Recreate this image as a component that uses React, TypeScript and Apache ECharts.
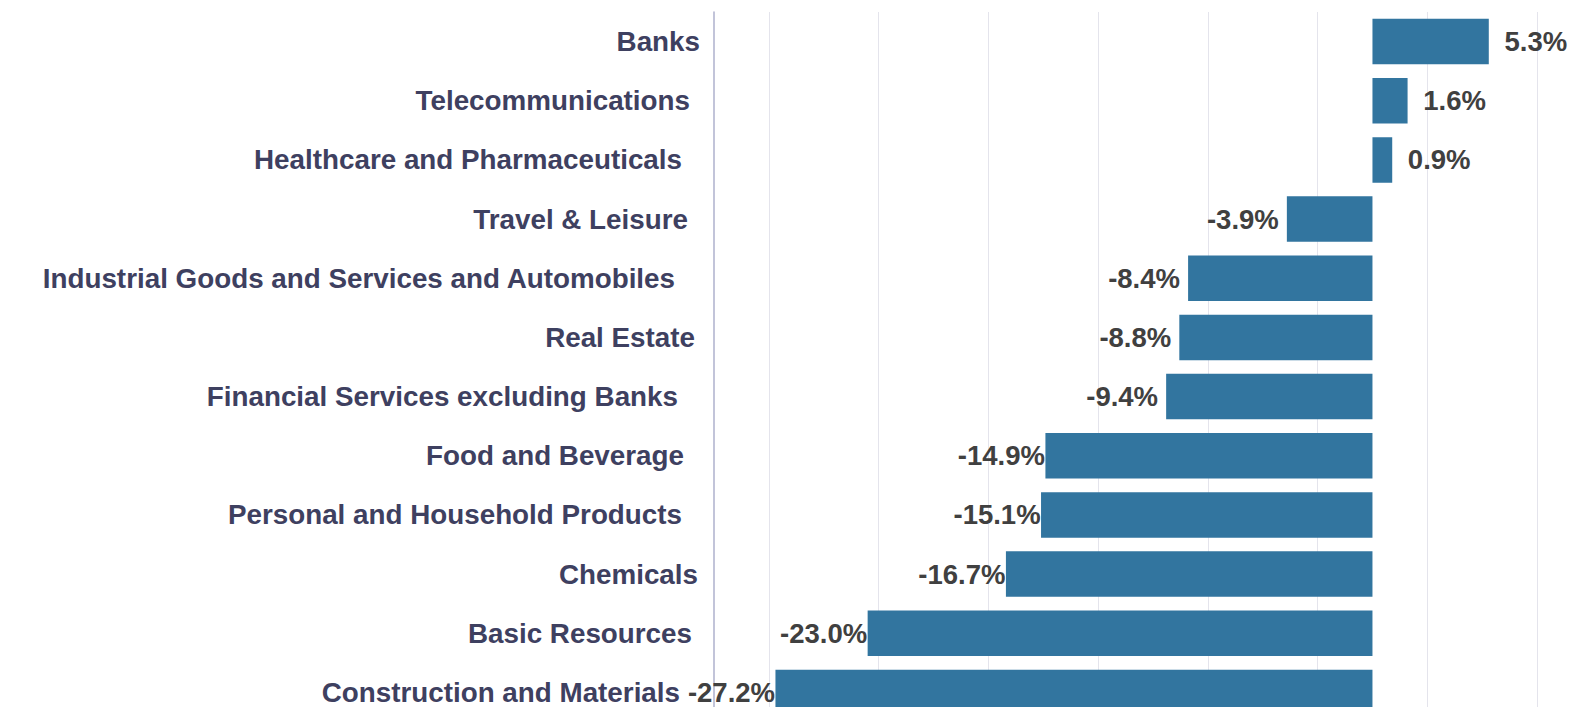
import React, { useEffect, useRef } from "react";
import * as echarts from "echarts";

const categories = [
  "Banks",
  "Telecommunications",
  "Healthcare and Pharmaceuticals",
  "Travel & Leisure",
  "Industrial Goods and Services and Automobiles",
  "Real Estate",
  "Financial Services excluding Banks",
  "Food and Beverage",
  "Personal and Household Products",
  "Chemicals",
  "Basic Resources",
  "Construction and Materials",
];

const values = [5.3, 1.6, 0.9, -3.9, -8.4, -8.8, -9.4, -14.9, -15.1, -16.7, -23.0, -27.2];

// reference grid line positions (percent)
const gridTicks = [-27.5, -22.5, -17.5, -12.5, -7.5, -2.5, 2.5, 7.5];

// extra right inset of each category label (px), as seen in the reference
const labelInset = [0, 10, 18, 12, 25, 5, 22, 16, 18, 2, 8, 20];

export default function App() {
  const ref = useRef<HTMLDivElement>(null);

  useEffect(() => {
    if (!ref.current) return;
    const chart = echarts.init(ref.current, undefined, { renderer: "svg" });
    const font = "'Liberation Sans', Arial, Helvetica, sans-serif";
    const rich: Record<string, any> = {};
    labelInset.forEach((p, i) => {
      rich["p" + i] = {
        fontFamily: font,
        fontWeight: "bold",
        fontSize: 27.8,
        color: "#3e4060",
        padding: [0, p, 0, 0],
      };
    });

    chart.setOption({
      animation: false,
      backgroundColor: "#ffffff",
      grid: { left: 714, top: 12, width: 856, height: 710, containLabel: false },
      xAxis: {
        type: "value",
        min: -30,
        max: 9,
        axisLabel: { show: false },
        axisTick: { show: false },
        axisLine: { show: false },
        splitLine: { show: false },
      },
      yAxis: {
        type: "category",
        inverse: true,
        data: categories,
        axisTick: { show: false },
        axisLine: { show: true, onZero: false, lineStyle: { color: "#aeb0cc", width: 1.5 } },
        axisLabel: {
          margin: 14,
          formatter: (v: string, i: number) => `{p${i}|${v}}`,
          rich,
          fontFamily: font,
          fontWeight: "bold",
          fontSize: 27.8,
          color: "#3e4060",
        },
      },
      series: [
        {
          type: "bar",
          barWidth: "77%",
          z: 2,
          data: values.map((v) => ({
            value: v,
            label: {
              show: true,
              position: v >= 0 ? "right" : "left",
              distance: v >= 0 ? 47 : 44,
              align: "center",
              verticalAlign: "middle",
              formatter: (p: any) => p.value.toFixed(1) + "%",
              fontFamily: font,
              fontWeight: "bold",
              fontSize: 27.5,
              color: "#404040",
            },
          })),
          itemStyle: { color: "#32759f" },
          markLine: {
            silent: true,
            symbol: "none",
            z: 1,
            animation: false,
            label: { show: false },
            lineStyle: { color: "#e4e4ec", width: 1, type: "solid" },
            data: gridTicks.map((x) => ({ xAxis: x })),
          },
        },
      ],
    });
    return () => chart.dispose();
  }, []);

  return (
    <div
      ref={ref}
      style={{ position: "fixed", left: 0, top: 0, width: 1570, height: 730 }}
    />
  );
}
